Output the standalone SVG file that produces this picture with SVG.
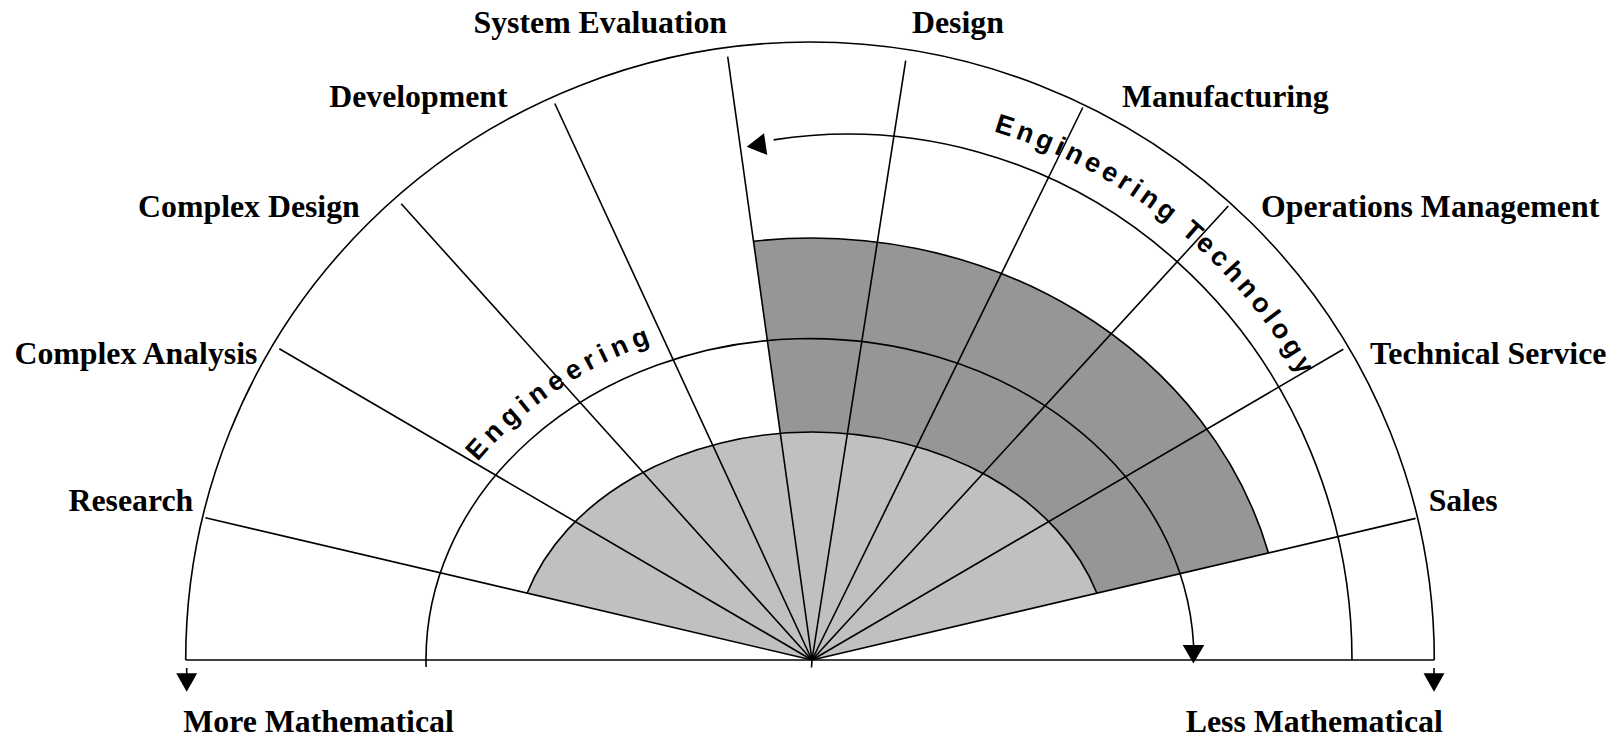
<svg xmlns="http://www.w3.org/2000/svg" width="1621" height="740" viewBox="0 0 1621 740">
  <style>
    .ln { fill: none; stroke: #000; stroke-width: 1.6; }
    .lbl { font-family: "Liberation Serif", "Times New Roman", serif; font-weight: bold; font-size: 31.8px; fill: #000; }
    .arc-txt { font-family: "Liberation Sans", Arial, sans-serif; font-weight: bold; font-size: 27px; fill: #000; }
    .head { fill: #000; stroke: none; }
  </style>
  <defs>
    <path id="engPath" d="M 477.8,461.9 A 408 345 0 0 1 880.8,320.2"/>
    <path id="etPath" d="M 993.5,131.3 A 528 550 0 0 1 1344.2,471.9"/>
  </defs>
  <rect width="1621" height="740" fill="#fff"/>

  <g id="bands">
    <path id="band-light" d="M 812,660 L 527.1,593.2 A 298 228 0 0 1 1096.9,593.2 Z" fill="#c0c0c0"/>
    <path id="band-dark" d="M 780.3,433.3 L 753.5,241.3 A 472 422 0 0 1 1268.5,552.9 L 1096.9,593.2 A 298 228 0 0 0 780.3,433.3 Z" fill="#969696"/>
  </g>

  <g id="frame">
    <path class="ln" d="M 185.7,660 A 624 617.7 0 0 1 1434.3,660"/>
    <path class="ln" d="M 185.7,660 L 1434.3,660"/>
    <path class="ln" d="M 527.1,593.2 A 298 228 0 0 1 1096.9,593.2"/>
    <path class="ln" d="M 753.5,241.3 A 472 422 0 0 1 1268.5,552.9"/>
  </g>

  <g id="rays">
    <line class="ln" x1="812" y1="660" x2="205.4" y2="517.7"/>
    <line class="ln" x1="812" y1="660" x2="279.3" y2="348.7"/>
    <line class="ln" x1="812" y1="660" x2="401.2" y2="203.7"/>
    <line class="ln" x1="812" y1="660" x2="554.8" y2="103.5"/>
    <line class="ln" x1="812" y1="660" x2="727.7" y2="56.7"/>
    <line class="ln" x1="812" y1="660" x2="905.7" y2="60.7"/>
    <line class="ln" x1="812" y1="660" x2="1082.8" y2="107.5"/>
    <line class="ln" x1="812" y1="660" x2="1228.3" y2="206"/>
    <line class="ln" x1="812" y1="660" x2="1343.3" y2="349.3"/>
    <line class="ln" x1="812" y1="660" x2="1415.6" y2="518.4"/>
    <line class="ln" x1="812" y1="660" x2="811.5" y2="667.5"/>
  </g>

  <g id="connectors">
    <g id="engineering-arrow">
      <path class="ln" d="M 426.1,667 A 384 321 0 0 1 1193.6,645"/>
      <polygon class="head" points="1182.7,645 1204.3,645 1193.4,663.5"/>
    </g>
    <g id="engineering-technology-arrow">
      <path class="ln" d="M 773.6,139.9 A 504 526 0 0 1 1352,660"/>
      <polygon class="head" points="746.7,146.7 764,133.3 767.3,155"/>
    </g>
    <g id="more-math-arrow">
      <line class="ln" x1="186.7" y1="668" x2="186.7" y2="674"/>
      <polygon class="head" points="176.2,673.3 197.2,673.3 186.7,691.7"/>
    </g>
    <g id="less-math-arrow">
      <line class="ln" x1="1434" y1="668" x2="1434" y2="674"/>
      <polygon class="head" points="1423.5,673.3 1444.5,673.3 1434,691.7"/>
    </g>
  </g>

  <g id="arc-labels">
    <text id="txt-engineering" class="arc-txt" letter-spacing="5.6"><textPath href="#engPath">Engineering</textPath></text>
    <text id="txt-engtech" class="arc-txt" letter-spacing="4.2"><textPath href="#etPath">Engineering Technology</textPath></text>
  </g>

  <g id="labels">
    <text id="lbl-sysev" class="lbl" x="727" y="33" text-anchor="end">System Evaluation</text>
    <text id="lbl-design" class="lbl" x="912" y="33">Design</text>
    <text id="lbl-dev" class="lbl" x="507.6" y="106.5" text-anchor="end">Development</text>
    <text id="lbl-manuf" class="lbl" x="1122" y="107">Manufacturing</text>
    <text id="lbl-cdesign" class="lbl" x="359.8" y="216.5" text-anchor="end">Complex Design</text>
    <text id="lbl-ops" class="lbl" x="1261" y="216.7">Operations Management</text>
    <text id="lbl-canal" class="lbl" x="257.4" y="363.5" text-anchor="end">Complex Analysis</text>
    <text id="lbl-tech" class="lbl" x="1370" y="363.5">Technical Service</text>
    <text id="lbl-research" class="lbl" x="193.3" y="510.7" text-anchor="end">Research</text>
    <text id="lbl-sales" class="lbl" x="1428.7" y="510.7">Sales</text>
    <text id="lbl-more" class="lbl" x="183.3" y="731.7">More Mathematical</text>
    <text id="lbl-less" class="lbl" x="1185.8" y="731.7">Less Mathematical</text>
  </g>
</svg>
